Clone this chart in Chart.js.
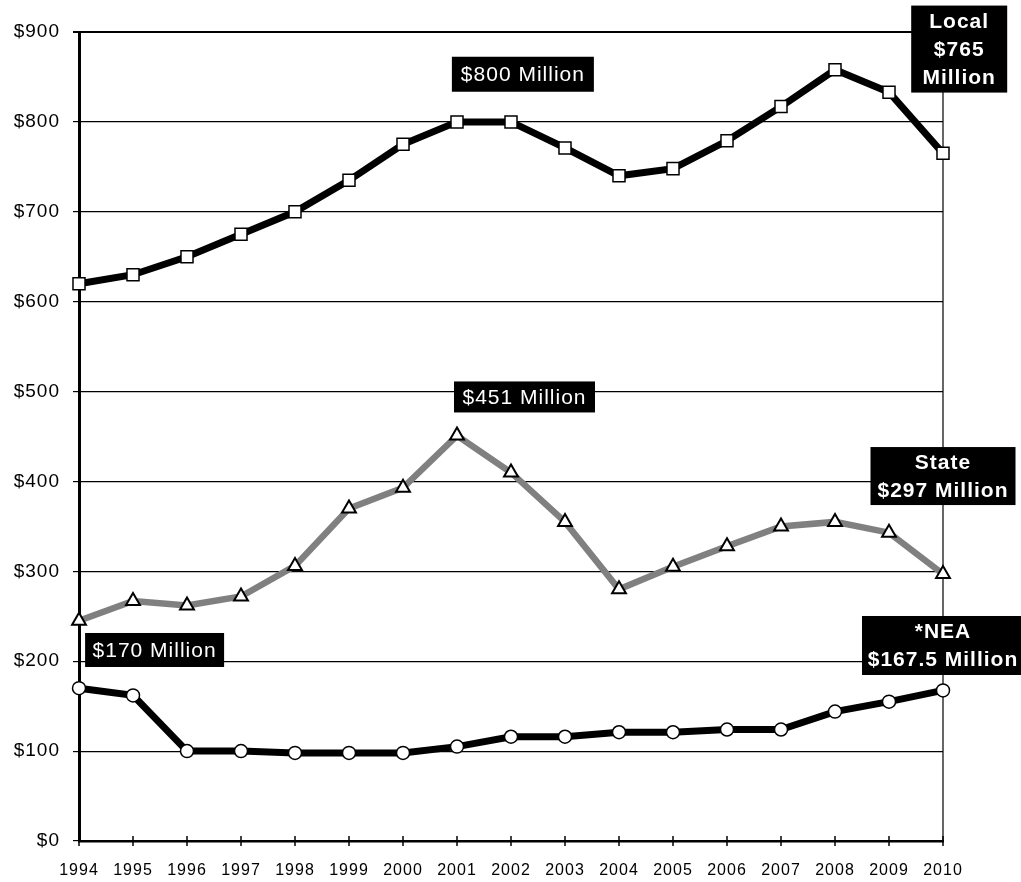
<!DOCTYPE html>
<html>
<head>
<meta charset="utf-8">
<script src="https://cdn.jsdelivr.net/npm/chart.js@4"></script>
<style>
  html, body { margin: 0; padding: 0; background: #fff; }
  #wrap { width: 1021px; height: 882px; }
</style>
</head>
<body>
<div id="wrap"><canvas id="fundingChart" width="1021" height="882"></canvas></div>
<script>
// data
const years = ["1994","1995","1996","1997","1998","1999","2000","2001","2002","2003","2004","2005","2006","2007","2008","2009","2010"];
const localFunds = [620, 630, 650, 675, 700, 735, 775, 800, 800, 771, 740, 748, 779, 817, 858, 833, 765];
const stateFunds = [245, 267, 262, 272, 306, 370, 393, 451, 410, 355, 280, 305, 328, 350, 355, 343, 297];
const neaFunds   = [170, 162, 100, 100, 98, 98, 98, 105, 116, 116, 121, 121, 124, 124, 144, 155, 167.5];
const yTicks = [0, 100, 200, 300, 400, 500, 600, 700, 800, 900];

// callout boxes: text lines, anchor (category index, value), box size
const notes = [
  { lines: ["$800 Million"], bold: false, at: [8.22, 853], w: 142, h: 35 },
  { lines: ["Local", "$765", "Million"], bold: true, at: [16.3, 881], w: 96, h: 87 },
  { lines: ["$451 Million"], bold: false, at: [8.25, 494], w: 141, h: 31 },
  { lines: ["State", "$297 Million"], bold: true, at: [16.0, 406], w: 145, h: 58 },
  { lines: ["*NEA", "$167.5 Million"], bold: true, at: [16.0, 217.5], w: 162, h: 59 },
  { lines: ["$170 Million"], bold: false, at: [1.4, 212.5], w: 139, h: 34 }
];

const FONT = "'Liberation Sans', Arial, sans-serif";

const calloutPlugin = {
  id: "callouts",
  beforeDraw(chart) {
    // the original lettering runs a little wide
    chart.ctx.letterSpacing = "1px";
  },
  beforeDatasetsDraw(chart) {
    const { ctx, chartArea: a, scales: { x } } = chart;
    ctx.save();
    ctx.strokeStyle = "#000";
    // right border line
    ctx.lineWidth = 1.2;
    ctx.beginPath();
    ctx.moveTo(a.right, a.top);
    ctx.lineTo(a.right, a.bottom);
    ctx.stroke();
    // top line a bit heavier
    ctx.lineWidth = 2.2;
    ctx.beginPath();
    ctx.moveTo(a.left - 6, a.top);
    ctx.lineTo(a.right, a.top);
    ctx.stroke();
    // x ticks crossing the axis
    ctx.lineWidth = 1.5;
    years.forEach((_, i) => {
      const px = x.getPixelForValue(i);
      ctx.beginPath();
      ctx.moveTo(px, a.bottom - 5);
      ctx.lineTo(px, a.bottom + 5);
      ctx.stroke();
    });
    ctx.restore();
  },
  afterDatasetsDraw(chart) {
    const { ctx, scales: { x, y } } = chart;
    ctx.save();
    notes.forEach(n => {
      const cx = x.getPixelForValue(n.at[0]);
      const cy = y.getPixelForValue(n.at[1]);
      ctx.fillStyle = "#000";
      ctx.fillRect(cx - n.w / 2, cy - n.h / 2, n.w, n.h);
      ctx.fillStyle = "#fff";
      ctx.textAlign = "center";
      ctx.textBaseline = "middle";
      ctx.font = (n.bold ? "bold 21px " : "21px ") + FONT;
      const lh = n.lines.length > 1 ? 28 : 0;
      const start = cy - lh * (n.lines.length - 1) / 2;
      n.lines.forEach((t, k) => ctx.fillText(t, cx, start + k * lh + 1));
    });
    ctx.restore();
  }
};

new Chart(document.getElementById("fundingChart"), {
  type: "line",
  data: {
    labels: years,
    datasets: [
      { label: "Local", data: localFunds, borderColor: "#000", borderWidth: 7, tension: 0,
        pointStyle: "rect", pointRadius: 8.5, pointBackgroundColor: "#fff", pointBorderColor: "#000", pointBorderWidth: 1.5 },
      { label: "State", data: stateFunds, borderColor: "#808080", borderWidth: 6.5, tension: 0,
        pointStyle: "triangle", pointRadius: 8, pointBackgroundColor: "#fff", pointBorderColor: "#000", pointBorderWidth: 2 },
      { label: "NEA", data: neaFunds, borderColor: "#000", borderWidth: 7, tension: 0,
        pointStyle: "circle", pointRadius: 6.5, pointBackgroundColor: "#fff", pointBorderColor: "#000", pointBorderWidth: 1.5 }
    ]
  },
  options: {
    responsive: false,
    animation: false,
    layout: { padding: { top: 32, right: 78, bottom: 0, left: 0 } },
    plugins: { legend: { display: false }, tooltip: { enabled: false } },
    scales: {
      x: {
        grid: { display: false },
        border: { color: "#000", width: 2.5 },
        ticks: { color: "#000", padding: 12, maxRotation: 0, autoSkip: false, font: { family: FONT, size: 16 } },
        afterFit(s) { s.height = 41; }
      },
      y: {
        min: 0, max: 900,
        afterBuildTicks(s) { s.ticks = yTicks.map(v => ({ value: v })); },
        grid: { color: "#000", lineWidth: 1.2, tickLength: 6 },
        border: { color: "#000", width: 3 },
        ticks: { color: "#000", padding: 13, font: { family: FONT, size: 19 }, callback: v => "$" + v },
        afterFit(s) { s.width = 79; }
      }
    }
  },
  plugins: [calloutPlugin]
});
</script>
</body>
</html>
